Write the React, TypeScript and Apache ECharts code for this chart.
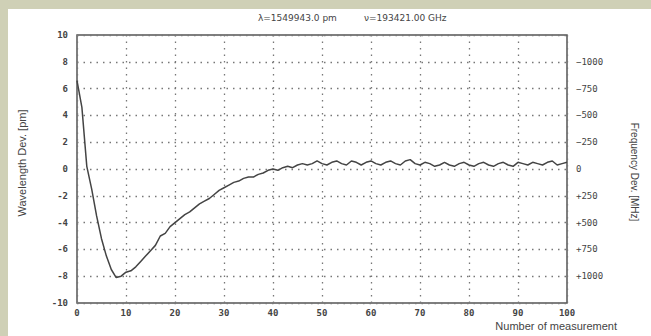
import React, { useEffect, useRef } from "react";
import * as echarts from "echarts";

const measurements: number[] = Array.from({ length: 101 }, (_, i) => i);
const wavelengthDev: number[] = [
  6.6, 4.6, 0.2, -1.5, -3.5, -5.2, -6.5, -7.5, -8.1, -8.0,
  -7.7, -7.6, -7.3, -6.9, -6.5, -6.1, -5.7, -5.0, -4.8, -4.3,
  -4.0, -3.7, -3.4, -3.2, -2.9, -2.6, -2.4, -2.2, -1.9, -1.6,
  -1.4, -1.2, -1.0, -0.9, -0.7, -0.6, -0.6, -0.4, -0.3, -0.1,
  0.0, -0.1, 0.1, 0.2, 0.1, 0.3, 0.4, 0.3, 0.4, 0.6,
  0.4, 0.3, 0.5, 0.6, 0.4, 0.3, 0.6, 0.5, 0.3, 0.5,
  0.6, 0.4, 0.3, 0.5, 0.6, 0.4, 0.3, 0.6, 0.7, 0.4,
  0.3, 0.5, 0.4, 0.2, 0.3, 0.5, 0.3, 0.2, 0.4, 0.5,
  0.3, 0.2, 0.4, 0.5, 0.3, 0.2, 0.4, 0.5, 0.3, 0.2,
  0.5, 0.4, 0.3, 0.5, 0.4, 0.3, 0.5, 0.6, 0.3, 0.4, 0.5,
];
const titleLeft = "\u03bb=1549943.0 pm";
const titleRight = "\u03bd=193421.00 GHz";
const leftAxisName = "Wavelength Dev. [pm]";
const rightAxisName = "Frequency Dev. [MHz]";
const xAxisName = "Number of measurement";

export default function App() {
  const ref = useRef<HTMLDivElement>(null);
  useEffect(() => {
    document.body.style.margin = "0";
    const chart = echarts.init(ref.current!, null, { renderer: "svg" });
    const textColor = "#444";
    const tickFont = { fontFamily: "DejaVu Sans Mono", fontSize: 9, color: textColor, fontWeight: "bold" as const };
    const gridLine = { show: true, lineStyle: { color: "#777", width: 1.3, type: [1.5, 5] } };
    chart.setOption({
      animation: false,
      backgroundColor: "transparent",
      graphic: [
        { type: "rect", z: -10, shape: { x: 8, y: 9, width: 643, height: 327 }, style: { fill: "#ffffff" }, silent: true },
        { type: "text", x: 258, y: 13, style: { text: titleLeft, font: "9px 'DejaVu Sans'", fill: textColor } },
        { type: "text", x: 364, y: 13, style: { text: titleRight, font: "9px 'DejaVu Sans'", fill: textColor } },
        { type: "text", x: 22, y: 163, rotation: Math.PI / 2, style: { text: leftAxisName, font: "11px 'Liberation Sans'", fill: textColor, align: "center", verticalAlign: "middle" } },
        { type: "text", x: 634, y: 172, rotation: -Math.PI / 2, style: { text: rightAxisName, font: "10px 'Liberation Sans'", fill: textColor, align: "center", verticalAlign: "middle" } },
        { type: "text", x: 617, y: 326, style: { text: xAxisName, font: "11px 'Liberation Sans'", fill: textColor, align: "right", verticalAlign: "middle" } },
      ],
      grid: {
        left: 77, right: 84, top: 35, bottom: 33,
        show: true, borderColor: "#555", borderWidth: 1.5, backgroundColor: "#fff",
      },
      xAxis: {
        type: "value", min: 0, max: 100, interval: 10,
        axisLine: { show: false }, axisTick: { show: false },
        axisLabel: { ...tickFont, margin: 5 },
        splitLine: gridLine,
      },
      yAxis: [
        {
          type: "value", min: -10, max: 10, interval: 2,
          axisLine: { show: false }, axisTick: { show: false },
          axisLabel: { ...tickFont, margin: 9 },
          splitLine: gridLine,
        },
        {
          type: "value", min: -1250, max: 1250, interval: 250, inverse: true, position: "right",
          axisLine: { show: false }, axisTick: { show: false }, splitLine: { show: false },
          axisLabel: {
            ...tickFont, fontWeight: "normal", margin: 9,
            formatter: (v: number) => (Math.abs(v) === 1250 ? "" : v > 0 ? "+" + v : v < 0 ? "\u2212" + Math.abs(v) : "0"),
          },
        },
      ],
      series: [
        {
          type: "line", yAxisIndex: 0, showSymbol: false, symbol: "none",
          data: measurements.map((m, i) => [m, wavelengthDev[i]]),
          lineStyle: { color: "#444", width: 1.5 },
        },
      ],
    });
    return () => chart.dispose();
  }, []);
  return (
    <div style={{ position: "relative", width: 651, height: 336, background: "#cfd0b6" }}>
      <div ref={ref} style={{ position: "absolute", left: 0, top: 0, width: 651, height: 336 }} />
    </div>
  );
}
